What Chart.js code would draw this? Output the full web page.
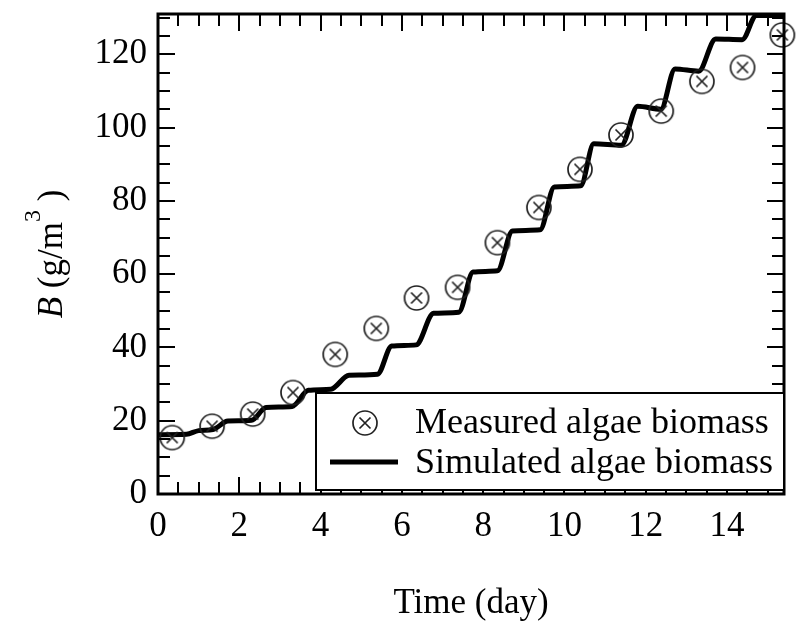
<!DOCTYPE html>
<html lang="en">
<head>
    <meta charset="UTF-8">
    <title>Algae biomass</title>
    <script src="https://cdn.jsdelivr.net/npm/chart.js@4.4.1/dist/chart.umd.min.js"></script>
</head>
<style>
    body { margin: 0; background: #fff; }
    #canvas-div { width: 798px; height: 627px; }
</style>
<body>
    <div id="canvas-div">
        <canvas id="biomass-chart" width="798" height="627"></canvas>
    </div>
    <script>
    // measured points (day, g/m3)
    var measuredDays = [0.35, 1.33, 2.33, 3.32, 4.36, 5.37, 6.36, 7.37, 8.35, 9.37, 10.38, 11.39, 12.38, 13.38, 14.38, 15.36];
    var measuredB = [15.4, 18.5, 21.8, 27.7, 38.1, 45.2, 53.5, 56.4, 68.6, 78.2, 88.6, 98.0, 104.5, 112.6, 116.4, 125.3];

    // simulated curve, read off the staircase
    var simDays = [0, 0.7, 1.0, 1.35, 1.72, 2.3, 2.66, 3.3, 3.7, 4.25, 4.7, 5.4, 5.75, 6.35, 6.78, 7.4, 7.75, 8.35, 8.72, 9.4, 9.75, 10.4, 10.72, 11.4, 11.8, 12.37, 12.72, 13.3, 13.72, 14.37, 14.72, 15.4];
    var simB = [16.2, 16.3, 17.3, 17.6, 19.9, 20.1, 23.6, 23.9, 28.3, 28.6, 32.4, 32.7, 40.4, 40.7, 49.3, 49.6, 60.6, 60.9, 71.8, 72.1, 83.8, 84.1, 95.6, 95.2, 105.8, 105.0, 116.0, 115.4, 124.2, 124.0, 130.6, 130.6];

    var xTicks = [0, 2, 4, 6, 8, 10, 12, 14];
    var yTicks = [0, 20, 40, 60, 80, 100, 120];
    var xMax = 15.4, yMax = 131;
    var xMinor = 0.5, yMinor = 5;

    var serif = "'Liberation Serif', 'Times New Roman', serif";

    // circle with x inside
    function makeMarker(){
        var c = document.createElement('canvas');
        c.width = 30; c.height = 30;
        var g = c.getContext('2d');
        g.strokeStyle = '#222';
        g.lineWidth = 1.7;
        g.beginPath();
        g.arc(15, 15, 12, 0, Math.PI * 2);
        g.stroke();
        g.beginPath();
        g.moveTo(9.5, 9.5); g.lineTo(20.5, 20.5);
        g.moveTo(20.5, 9.5); g.lineTo(9.5, 20.5);
        g.stroke();
        return c;
    }
    var marker = makeMarker();

    var measured = measuredDays.map(function(d, i){ return {x: d, y: measuredB[i]}; });
    var simulated = simDays.map(function(d, i){ return {x: d, y: simB[i]}; });

    function onStep(v, step){
        return Math.abs(v / step - Math.round(v / step)) < 1e-6;
    }

    var frameTicks = {
        id: 'frameTicks',
        afterDatasetsDraw: function(chart){
            var ctx = chart.ctx, a = chart.chartArea;
            var x = chart.scales.x, y = chart.scales.y;
            ctx.save();
            ctx.strokeStyle = '#000';
            ctx.lineWidth = 2;
            ctx.beginPath();
            for (var v = xMinor; v < xMax; v += xMinor){
                var px = Math.round(x.getPixelForValue(v));
                var len = onStep(v, 2) ? 17 : 12;
                ctx.moveTo(px, a.bottom); ctx.lineTo(px, a.bottom - len);
                ctx.moveTo(px, a.top); ctx.lineTo(px, a.top + len);
            }
            for (var w = yMinor; w < yMax; w += yMinor){
                var py = Math.round(y.getPixelForValue(w));
                var l2 = onStep(w, 20) ? 17 : 12;
                ctx.moveTo(a.left, py); ctx.lineTo(a.left + l2, py);
                ctx.moveTo(a.right, py); ctx.lineTo(a.right - l2, py);
            }
            ctx.stroke();
            ctx.lineWidth = 3;
            ctx.strokeRect(a.left, a.top, a.right - a.left, a.bottom - a.top);
            ctx.restore();
        },
        afterDraw: function(chart){
            var ctx = chart.ctx, a = chart.chartArea;
            var ds = chart.data.datasets;
            ctx.save();
            // legend box
            var bx = 316, by = 393, bw = a.right - bx, bh = 97;
            ctx.fillStyle = '#fff';
            ctx.fillRect(bx, by, bw, bh);
            ctx.strokeStyle = '#000';
            ctx.lineWidth = 2;
            ctx.strokeRect(bx, by, bw, bh);
            ctx.drawImage(marker, 365 - 15, 423 - 15);
            ctx.lineWidth = 5;
            ctx.beginPath();
            ctx.moveTo(330, 462); ctx.lineTo(398, 462);
            ctx.stroke();
            ctx.fillStyle = '#000';
            ctx.font = '36px ' + serif;
            ctx.textBaseline = 'alphabetic';
            ctx.fillText(ds[0].label, 415, 433);
            ctx.fillText(ds[1].label, 415, 473);

            // y title: B (g/m^3)
            ctx.translate(62, (a.top + a.bottom) / 2);
            ctx.rotate(-Math.PI / 2);
            var parts = [
                {t: 'B', f: 'italic 35px ' + serif, dy: 0},
                {t: ' (g/m', f: '35px ' + serif, dy: 0},
                {t: '3', f: '24px ' + serif, dy: -22},
                {t: ' )', f: '35px ' + serif, dy: 0}
            ];
            var total = 0;
            parts.forEach(function(p){ ctx.font = p.f; p.w = ctx.measureText(p.t).width; total += p.w; });
            var cx = -total / 2;
            parts.forEach(function(p){ ctx.font = p.f; ctx.fillText(p.t, cx, p.dy); cx += p.w; });
            ctx.restore();
        }
    };

    new Chart(document.getElementById('biomass-chart'), {
        data: {
            datasets: [{
                type: 'scatter',
                label: 'Measured algae biomass',
                data: measured,
                pointStyle: marker,
                pointRadius: 13,
                clip: false,
                order: 1
            }, {
                type: 'line',
                label: 'Simulated algae biomass',
                data: simulated,
                borderColor: '#000',
                borderWidth: 5,
                pointRadius: 0,
                fill: false,
                cubicInterpolationMode: 'monotone',
                order: 2
            }]
        },
        options: {
            responsive: false,
            animation: false,
            layout: { padding: { top: 7, right: 8, left: 0, bottom: 0 } },
            plugins: { legend: { display: false }, tooltip: { enabled: false } },
            scales: {
                x: {
                    type: 'linear', min: 0, max: xMax,
                    afterFit: function(s){ s.height = 133; s.paddingLeft = 0; s.paddingRight = 0; },
                    afterBuildTicks: function(s){ s.ticks = xTicks.map(function(v){ return {value: v}; }); },
                    grid: { display: false, drawTicks: false },
                    border: { display: false },
                    ticks: { color: '#000', padding: 12, maxRotation: 0, font: { family: serif, size: 35 } },
                    title: { display: true, text: 'Time (day)', color: '#000', padding: { bottom: 2 }, font: { family: serif, size: 35 } }
                },
                y: {
                    type: 'linear', min: 0, max: yMax,
                    afterFit: function(s){ s.width = 158; s.paddingTop = 0; s.paddingBottom = 0; },
                    afterBuildTicks: function(s){ s.ticks = yTicks.map(function(v){ return {value: v}; }); },
                    grid: { display: false, drawTicks: false },
                    border: { display: false },
                    ticks: { color: '#000', padding: 11, font: { family: serif, size: 35 } }
                }
            }
        },
        plugins: [frameTicks]
    });
    </script>
</body>
</html>
